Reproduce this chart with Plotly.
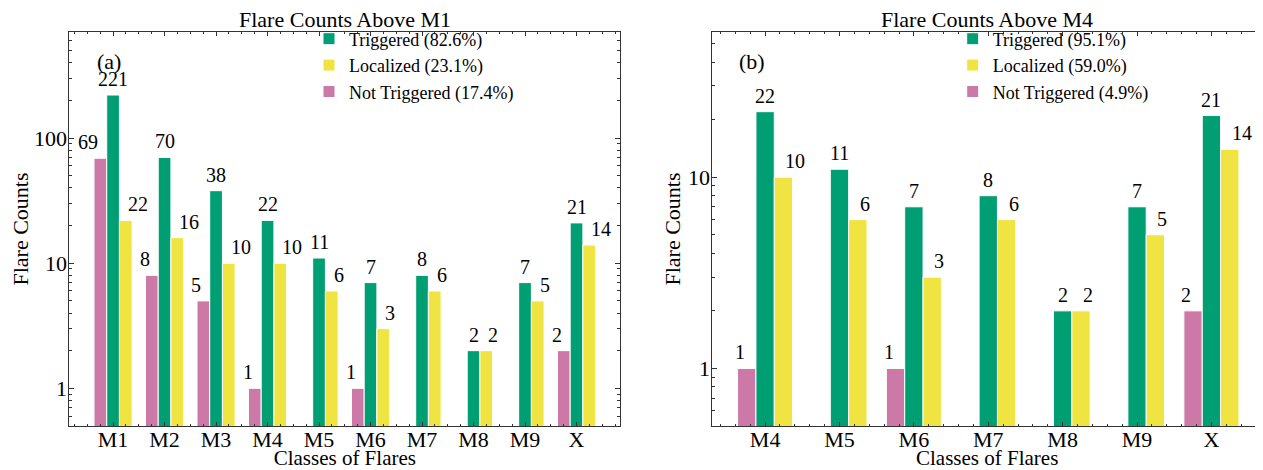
import math
import plotly.graph_objects as go

# ---------------- data ----------------
classes_m1 = ["M1", "M2", "M3", "M4", "M5", "M6", "M7", "M8", "M9", "X"]
not_trig_m1 = [69, 8, 5, 1, 0, 1, 0, 0, 0, 2]
trig_m1 = [221, 70, 38, 22, 11, 7, 8, 2, 7, 21]
local_m1 = [22, 16, 10, 10, 6, 3, 6, 2, 5, 14]

classes_m4 = ["M4", "M5", "M6", "M7", "M8", "M9", "X"]
not_trig_m4 = [1, 0, 1, 0, 0, 0, 2]
trig_m4 = [22, 11, 7, 8, 2, 7, 21]
local_m4 = [10, 6, 3, 6, 2, 5, 14]

names_m1 = {"trig": "Triggered (82.6%)", "loc": "Localized (23.1%)", "not": "Not Triggered (17.4%)"}
names_m4 = {"trig": "Triggered (95.1%)", "loc": "Localized (59.0%)", "not": "Not Triggered (4.9%)"}

titles = ["Flare Counts Above M1", "Flare Counts Above M4"]
panel_tags = ["(a)", "(b)"]

C_TRIG = "#009E73"
C_LOC = "#F0E442"
C_NOT = "#CC79A7"
FONT = "Liberation Serif, 'Times New Roman', Times, serif"

BARGAP = 0.26
N_IN_GROUP = 3
SLOT = (1 - BARGAP) / N_IN_GROUP  # width of one bar slot in category units

# page is rendered inside the default 8px body margin
W, H, OFF = 1263, 470, 8
FW, FH = W - OFF, H - OFF


def px_x(x):  # reference pixel -> paper fraction
    return (x - OFF) / FW


def px_y(y):
    return (FH - (y - OFF)) / FH


def nz(vals):
    return [v if v > 0 else None for v in vals]


fig = go.Figure()
annotations = []


def add_panel(classes, not_t, trig, loc, names, xa, ya, legend):
    idx = list(range(len(classes)))
    # order in group: Not Triggered (left), Triggered (centre), Localized (right)
    series = [("not", not_t, C_NOT, 3, -1, "right"),
              ("trig", trig, C_TRIG, 1, 0, "center"),
              ("loc", loc, C_LOC, 2, 1, "left")]
    for key, vals, color, rank, slot, anchor in series:
        fig.add_trace(go.Bar(
            x=idx, y=nz(vals), name=names[key],
            marker=dict(color=color, line=dict(color="white", width=1)),
            cliponaxis=False, legendrank=rank, legend=legend,
            xaxis=xa, yaxis=ya, hoverinfo="x+y",
        ))
        # value labels above each bar (log axis -> annotation y in log10 units)
        for i, v in zip(idx, vals):
            if v > 0:
                annotations.append(dict(
                    text=str(v), x=i + slot * SLOT, y=math.log10(v), xref=xa, yref=ya,
                    xanchor=anchor, yanchor="bottom", yshift=3, showarrow=False,
                    font=dict(family=FONT, size=20, color="black"),
                ))


add_panel(classes_m1, not_trig_m1, trig_m1, local_m1, names_m1, "x", "y", "legend")
add_panel(classes_m4, not_trig_m4, trig_m4, local_m4, names_m4, "x2", "y2", "legend2")

ydom = [px_y(426), px_y(32)]
xdom1 = [px_x(69.3), px_x(620.3)]
xdom2 = [px_x(712.3), px_x(1262)]

axis_common = dict(
    showline=True, linecolor="#333", linewidth=1, mirror="allticks",
    ticks="inside", tickcolor="#333", showgrid=False, zeroline=False,
    tickfont=dict(family=FONT, size=22, color="black"), automargin=False,
)


def xaxis(dom, classes, rng, minor_dt, anchor):
    return dict(
        axis_common, domain=dom, anchor=anchor, range=rng,
        tickmode="array", tickvals=list(range(len(classes))), ticktext=classes,
        ticklen=4, ticklabelstandoff=-6,
        minor=dict(ticks="inside", ticklen=2, dtick=minor_dt, tick0=0, tickcolor="#333"),
        title=dict(text="Classes of Flares", font=dict(family=FONT, size=21, color="black"), standoff=0),
    )


def yaxis(rng, anchor, standoff):
    return dict(
        axis_common, domain=ydom, anchor=anchor, type="log", range=rng,
        tickmode="array", tickvals=[1, 10, 100], ticktext=["1", "10", "100"],
        ticklen=5, ticklabelstandoff=-3,
        minor=dict(ticks="inside", ticklen=3, tickcolor="#333",
                   tickvals=[0.6, 0.7, 0.8, 0.9, 2, 3, 4, 5, 6, 7, 8, 9, 20, 30, 40, 50, 60, 70, 80, 90,
                             200, 300, 400, 500, 600, 700]),
        title=dict(text="Flare Counts", font=dict(family=FONT, size=22, color="black"), standoff=standoff),
    )


legend_common = dict(
    font=dict(family=FONT, size=18, color="black"), bgcolor="rgba(0,0,0,0)",
    xanchor="left", yanchor="top", traceorder="normal", borderwidth=0,
)

fig.update_layout(
    width=FW, height=FH,
    margin=dict(l=0, r=0, t=0, b=0),
    paper_bgcolor="white", plot_bgcolor="white",
    barmode="group", bargap=BARGAP, bargroupgap=0.0,
    font=dict(family=FONT, color="black"),
    xaxis=xaxis(xdom1, classes_m1, [-0.85, 9.85], 0.25, "y"),
    yaxis=yaxis([-0.301, 2.848], "x", 6),
    xaxis2=xaxis(xdom2, classes_m4, [-0.71, 6.68], 0.2, "y2"),
    yaxis2=yaxis([-0.301, 1.759], "x2", 1),
    legend=dict(legend_common, x=px_x(349 - 40), y=px_y(20.5)),
    legend2=dict(legend_common, x=px_x(992.7 - 40), y=px_y(20.5)),
    showlegend=True,
)

for i, (t, tag) in enumerate(zip(titles, panel_tags)):
    xr = "x domain" if i == 0 else "x2 domain"
    yr = "y domain" if i == 0 else "y2 domain"
    annotations.append(dict(text=t, xref=xr, yref="paper", x=0.5, y=px_y(19),
                            xanchor="center", yanchor="middle", showarrow=False,
                            font=dict(family=FONT, size=22, color="black")))
    annotations.append(dict(text=tag, xref=xr, yref=yr, x=0.072, y=0.924,
                            xanchor="center", yanchor="middle", showarrow=False,
                            font=dict(family=FONT, size=22, color="black")))
fig.update_layout(annotations=annotations)

fig.write_html("out.html")
